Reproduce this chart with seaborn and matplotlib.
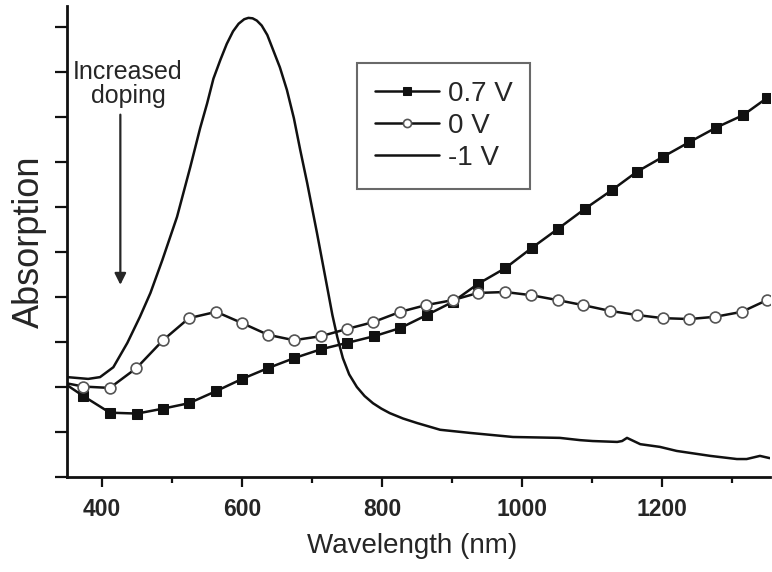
import numpy as np
import pandas as pd
import matplotlib
matplotlib.use("Agg")
import matplotlib.pyplot as plt
import seaborn as sns
from matplotlib.ticker import MultipleLocator

# ===============================
# DATA
# ===============================
wl_07 = [350, 373, 411, 450, 487, 524, 563, 600, 637, 674, 713, 750, 789, 826,
         864, 901, 937, 976, 1014, 1051, 1090, 1129, 1164, 1201, 1239, 1277,
         1316, 1350]
abs_07 = [2.04, 1.80, 1.43, 1.41, 1.52, 1.64, 1.91, 2.18, 2.42, 2.64, 2.84,
          2.98, 3.13, 3.31, 3.60, 3.89, 4.29, 4.64, 5.09, 5.51, 5.96, 6.38,
          6.78, 7.11, 7.44, 7.76, 8.04, 8.42]

wl_0 = [350, 373, 411, 449, 487, 524, 563, 600, 637, 674, 713, 750, 787, 826,
        863, 901, 937, 976, 1013, 1051, 1087, 1126, 1164, 1201, 1239, 1276,
        1314, 1350]
abs_0 = [2.08, 2.01, 1.98, 2.42, 3.04, 3.53, 3.67, 3.42, 3.16, 3.04, 3.13,
         3.29, 3.44, 3.67, 3.82, 3.93, 4.09, 4.11, 4.04, 3.93, 3.82, 3.69,
         3.60, 3.53, 3.51, 3.56, 3.67, 3.93]

wl_m1 = [350, 380, 397, 416, 436, 454, 469, 486, 507, 526, 540, 550, 559, 569,
         578, 587, 595, 603, 609, 615, 621, 628, 636, 644, 654, 664, 674, 683,
         693, 707, 723, 729, 736, 744, 753, 764, 775, 787, 799, 811, 830, 850,
         883, 926, 987, 1054, 1083, 1101, 1136, 1143, 1150, 1169, 1197, 1221,
         1269, 1307, 1321, 1340, 1354]
abs_m1 = [2.22, 2.18, 2.22, 2.44, 2.98, 3.56, 4.09, 4.82, 5.78, 6.89, 7.75,
          8.30, 8.85, 9.27, 9.62, 9.90, 10.07, 10.17, 10.20, 10.19, 10.14,
          10.03, 9.82, 9.50, 9.10, 8.60, 7.97, 7.27, 6.53, 5.42, 4.10, 3.60,
          3.11, 2.64, 2.28, 2.00, 1.80, 1.64, 1.52, 1.42, 1.30, 1.20, 1.05,
          0.98, 0.89, 0.87, 0.82, 0.80, 0.78, 0.80, 0.87, 0.73, 0.67, 0.58,
          0.47, 0.40, 0.40, 0.47, 0.42]

labels = ["0.7 V", "0 V", "-1 V"]
x_ticks = [400, 600, 800, 1000, 1200]

df_07 = pd.DataFrame({"wl": wl_07, "a": abs_07})
df_0 = pd.DataFrame({"wl": wl_0, "a": abs_0})
df_m1 = pd.DataFrame({"wl": wl_m1, "a": abs_m1})

# ===============================
# STYLE
# ===============================
sns.set_style("ticks")
plt.rcParams["font.family"] = ["Liberation Sans", "DejaVu Sans"]
text_col = "#262626"
line_col = "#111111"

fig = plt.figure(figsize=(7.72, 5.72), dpi=100)
ax = fig.add_axes([0.087, 0.166, 0.911, 0.824])

# ===============================
# CURVES
# ===============================
sns.lineplot(data=df_07, x="wl", y="a", ax=ax, color=line_col, lw=1.8,
             marker="s", markersize=6.8, markevery=list(range(1, len(wl_07))),
             markerfacecolor=line_col, markeredgecolor=line_col,
             label=labels[0], estimator=None, sort=False)
sns.lineplot(data=df_0, x="wl", y="a", ax=ax, color=line_col, lw=1.8,
             marker="o", markersize=7.8, markevery=list(range(1, len(wl_0))),
             markerfacecolor="white", markeredgecolor="#555555",
             markeredgewidth=1.2, label=labels[1], estimator=None, sort=False)
sns.lineplot(data=df_m1, x="wl", y="a", ax=ax, color=line_col, lw=1.8,
             label=labels[2], estimator=None, sort=False)

# ===============================
# AXES
# ===============================
ax.set_xlim(350, 1355)
ax.set_ylim(0, 10.47)
ax.set_xticks(x_ticks)
ax.xaxis.set_minor_locator(MultipleLocator(100))
ax.set_yticks(range(0, 11))
ax.set_yticklabels([])
ax.tick_params(axis="x", which="major", length=7, width=1.6, labelsize=16.5,
               colors=line_col, labelcolor=text_col, pad=8)
ax.tick_params(axis="x", which="minor", length=4, width=1.6, colors=line_col)
ax.tick_params(axis="y", which="major", length=9, width=1.6, colors=line_col)
for lab in ax.get_xticklabels():
    lab.set_fontweight("bold")
sns.despine(ax=ax)
for side in ["left", "bottom"]:
    ax.spines[side].set_linewidth(2.0)
    ax.spines[side].set_color(line_col)

ax.set_xlabel("Wavelength (nm)", fontsize=20, color=text_col, labelpad=9,
              x=0.49)
ax.set_ylabel("Absorption", fontsize=26, color=text_col, labelpad=2)

# ===============================
# ANNOTATION
# ===============================
ax.annotate("", xy=(426, 4.27), xytext=(426, 8.05),
            arrowprops=dict(arrowstyle="-|>", lw=1.6, color=text_col,
                            mutation_scale=17, shrinkA=0, shrinkB=0))
ax.text(437, 8.72, "Increased\ndoping", ha="center", va="center",
        fontsize=18, color=text_col, linespacing=1.0)

# ===============================
# LEGEND
# ===============================
leg = ax.legend(loc="upper left", bbox_to_anchor=(0.4125, 0.879),
                borderaxespad=0, frameon=True, fancybox=False, fontsize=20,
                handlelength=2.3, handletextpad=0.3, labelspacing=0.22,
                borderpad=0.65, markerscale=0.75)
leg.get_frame().set_edgecolor("#444444")
leg.get_frame().set_linewidth(1.5)
for t in leg.get_texts():
    t.set_color(text_col)

fig.savefig("out.png", dpi=100)
